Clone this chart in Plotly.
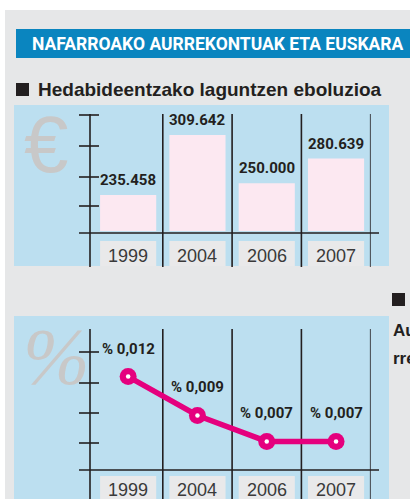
import plotly.graph_objects as go

# ---- data ----
years = ["1999", "2004", "2006", "2007"]
aid_eur = [235458, 309642, 250000, 280639]
share_pct = [0.012, 0.009, 0.007, 0.007]

title_text = "NAFARROAKO AURREKONTUAK ETA EUSKARA"
subtitle_text = "Hedabideentzako laguntzen eboluzioa"

W, H = 410, 499


def px(x):
    return x / W


def py(y):
    return 1 - y / H


FONT_N = "Roboto, Liberation Sans, Arial, sans-serif"
FONT = "Liberation Sans, Arial, sans-serif"
PANEL = "#bcdff0"
BG = "#e6e7e8"
BOX = "#e9e9ea"
INK = "#231f20"
MAG = "#e5007e"
PINK = "#fce8f1"

fig = go.Figure()

fig.add_trace(go.Bar(
    x=years, y=aid_eur, width=0.81,
    marker=dict(color=PINK, line=dict(width=0)),
    xaxis="x", yaxis="y", hoverinfo="skip",
))
fig.add_trace(go.Scatter(
    x=years, y=share_pct, mode="lines+markers",
    line=dict(color=MAG, width=5.5),
    marker=dict(size=17, color=MAG),
    xaxis="x2", yaxis="y2", cliponaxis=False, hoverinfo="skip",
))
fig.add_trace(go.Scatter(
    x=years, y=share_pct, mode="markers",
    marker=dict(size=4.5, color="white"),
    xaxis="x2", yaxis="y2", cliponaxis=False, hoverinfo="skip",
))

shapes = []
shapes.append(dict(type="rect", xref="paper", yref="paper", x0=px(5), x1=px(420),
                   y0=py(510), y1=py(10), fillcolor=BG, line_width=0, layer="below"))
shapes.append(dict(type="rect", xref="paper", yref="paper", x0=px(16), x1=px(420),
                   y0=py(58), y1=py(29), fillcolor="#0a85bf", line_width=0, layer="below"))
shapes.append(dict(type="rect", xref="paper", yref="paper", x0=px(14), x1=px(389),
                   y0=py(266), y1=py(105), fillcolor=PANEL, line_width=0, layer="below"))
shapes.append(dict(type="rect", xref="paper", yref="paper", x0=px(14), x1=px(389),
                   y0=py(510), y1=py(316), fillcolor=PANEL, line_width=0, layer="below"))
# black heading squares
shapes.append(dict(type="rect", xref="paper", yref="paper", x0=px(16), x1=px(29),
                   y0=py(96), y1=py(83), fillcolor=INK, line_width=0, layer="below"))
shapes.append(dict(type="rect", xref="paper", yref="paper", x0=px(392), x1=px(405),
                   y0=py(306), y1=py(293), fillcolor=INK, line_width=0, layer="below"))

LW = 1.6
for xa, top, bot, base, yb0, yb1, ticks in [
    ("x", 114, 267, 233, 241, 266, [115, 146, 177, 206]),
    ("x2", 329, 510, 470, 476, 510, [352, 383, 413, 443]),
]:
    for i in range(len(years)):
        shapes.append(dict(type="rect", xref=xa, yref="paper", x0=i - 0.405, x1=i + 0.405,
                           y0=py(yb1), y1=py(yb0), fillcolor=BOX, line_width=0, layer="below"))
    for i in range(len(years)):
        shapes.append(dict(type="line", xref=xa, yref="paper", x0=i + 0.5, x1=i + 0.5,
                           y0=py(bot), y1=py(top), line=dict(color=INK, width=LW), layer="below"))
    shapes.append(dict(type="line", xref="paper", yref="paper", x0=px(90), x1=px(90),
                       y0=py(bot), y1=py(top), line=dict(color=INK, width=LW), layer="below"))
    for t in ticks:
        shapes.append(dict(type="line", xref="paper", yref="paper", x0=px(79), x1=px(99),
                           y0=py(t), y1=py(t), line=dict(color=INK, width=LW), layer="below"))
    shapes.append(dict(type="line", xref="paper", yref="paper", x0=px(79), x1=px(379),
                       y0=py(base), y1=py(base), line=dict(color=INK, width=LW), layer="below"))

ann = []
ann.append(dict(text="<b>" + title_text + "</b>", x=px(30), y=py(44), xref="paper", yref="paper",
                xanchor="left", yanchor="middle", showarrow=False,
                font=dict(family=FONT_N, size=17.5, color="white")))
ann.append(dict(text="<b>" + subtitle_text + "</b>", x=px(36), y=py(90), xref="paper", yref="paper",
                xanchor="left", yanchor="middle", showarrow=False,
                font=dict(family=FONT, size=19, color=INK)))
ann.append(dict(text="€", x=px(46), y=py(145), xref="paper", yref="paper",
                xanchor="center", yanchor="middle", showarrow=False,
                font=dict(family=FONT, size=80, color="#c8c8c8")))
ann.append(dict(text="<i>%</i>", x=px(56), y=py(357), xref="paper", yref="paper",
                xanchor="center", yanchor="middle", showarrow=False,
                font=dict(family="Liberation Serif, serif", size=80, color="#c8c8c8")))
for t, yy in [("Au", 330), ("rre", 358)]:
    ann.append(dict(text="<b>" + t + "</b>", x=px(391), y=py(yy), xref="paper", yref="paper",
                    xanchor="left", yanchor="middle", showarrow=False,
                    font=dict(family=FONT, size=17, color=INK)))

for i, (yr, v) in enumerate(zip(years, aid_eur)):
    ann.append(dict(text="<b>" + f"{v:,}".replace(",", ".") + "</b>", x=i, y=v,
                    xref="x", yref="y", yshift=15, yanchor="middle", showarrow=False,
                    font=dict(family=FONT_N, size=15, color=INK)))
    ann.append(dict(text=yr, x=i, y=py(256), xref="x", yref="paper", yanchor="middle",
                    showarrow=False, font=dict(family=FONT, size=18, color="#3a3a3a")))
for i, (yr, v) in enumerate(zip(years, share_pct)):
    ann.append(dict(text="<b>% " + f"{v:.3f}".replace(".", ",") + "</b>", x=i, y=v,
                    xref="x2", yref="y2", yshift=28, yanchor="middle", showarrow=False,
                    font=dict(family=FONT_N, size=15, color=INK)))
    ann.append(dict(text=yr, x=i, y=py(490), xref="x2", yref="paper", yanchor="middle",
                    showarrow=False, font=dict(family=FONT, size=18, color="#3a3a3a")))

fig.update_layout(
    width=W, height=H,
    margin=dict(l=0, r=0, t=0, b=0),
    paper_bgcolor="white", plot_bgcolor="rgba(0,0,0,0)",
    showlegend=False,
    xaxis=dict(domain=[px(93.5), px(370.7)], range=[-0.5, 3.5], type="category",
               visible=False, anchor="y"),
    yaxis=dict(domain=[py(231), py(114)], range=[191100, 335700], visible=False, anchor="x"),
    xaxis2=dict(domain=[px(93.5), px(370.7)], range=[-0.5, 3.5], type="category",
                visible=False, anchor="y2"),
    yaxis2=dict(domain=[py(470), py(329)], range=[0.004796, 0.01567], visible=False, anchor="x2"),
    shapes=shapes,
    annotations=ann,
)

fig.write_html("out.html")
